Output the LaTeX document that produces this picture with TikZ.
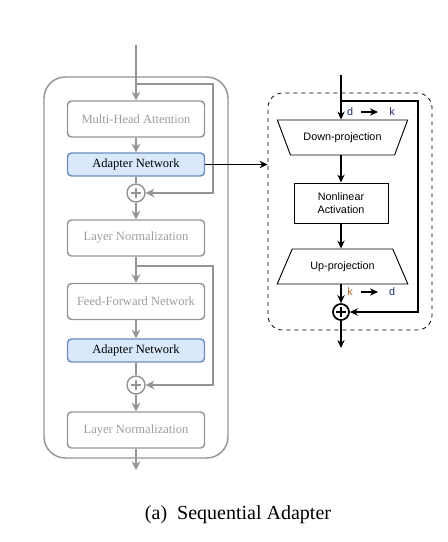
\documentclass[tikz,border=0pt]{standalone}
\usepackage{fontspec}
\setmainfont{Liberation Serif}
\setsansfont{Liberation Sans}
\usetikzlibrary{arrows.meta,shapes.geometric}
\definecolor{lgray}{HTML}{959595}
\definecolor{tgray}{HTML}{9C9C9C}
\definecolor{adfill}{HTML}{DAE8FC}
\definecolor{adline}{HTML}{6C8EBF}
\definecolor{dnavy}{HTML}{1F2A6B}
\definecolor{korange}{HTML}{B8611E}
\tikzset{
  layerbox/.style={draw=lgray, line width=1.1pt, rounded corners=3pt, minimum width=102.75pt,
    minimum height=27pt, text=tgray, font=\fontsize{9.4}{11}\selectfont},
  adapterbox/.style={layerbox, draw=adline, fill=adfill, minimum height=17.25pt, text=black},
  gplus/.style={circle, draw=lgray, line width=1.1pt, minimum size=13.5pt, inner sep=0pt},
  garrow/.style={draw=lgray, line width=1.1pt, -{Stealth[length=6.5pt,width=6.5pt]}},
  gline/.style={draw=lgray, line width=1.1pt},
  barrow/.style={line width=0.9pt, -{Stealth[length=6pt,width=5.5pt]}},
  projbox/.style={draw, line width=0.7pt, trapezium, trapezium stretches=true,
    trapezium left angle=60, trapezium right angle=60, minimum width=98.25pt, minimum height=26.25pt,
    font=\sffamily\fontsize{8.1}{10}\selectfont},
  actbox/.style={draw, line width=0.7pt, minimum width=70.5pt, minimum height=30pt, align=center,
    font=\sffamily\fontsize{8.1}{10}\selectfont},
  dimlabel/.style={font=\sffamily\fontsize{8.1}{10}\selectfont, inner sep=0pt}
}
\begin{document}
\begin{tikzpicture}[x=0.75pt, y=-0.75pt]
  \useasboundingbox (0,0) rectangle (448,542);
  % transformer layer
  \draw[lgray, line width=1.1pt, rounded corners=16pt] (44,77) rectangle (228,458);
  \coordinate (lin) at (136,45);
  \coordinate (lout) at (136,470);
  \node[layerbox] (mha) at (136,119) {Multi-Head Attention};
  \node[adapterbox] (ad1) at (136,164.5) {Adapter Network};
  \node[gplus] (plus1) at (136,193) {};
  \node[layerbox] (ln1) at (136,238) {Layer Normalization};
  \node[layerbox] (ffn) at (136,301.5) {Feed-Forward Network};
  \node[adapterbox] (ad2) at (136,350.5) {Adapter Network};
  \node[gplus] (plus2) at (136,385) {};
  \node[layerbox] (ln2) at (136,430) {Layer Normalization};
  \draw[gline] (plus1.center) ++(0,-5) -- ++(0,10) (plus1.center) ++(-5,0) -- ++(10,0);
  \draw[gline] (plus2.center) ++(0,-5) -- ++(0,10) (plus2.center) ++(-5,0) -- ++(10,0);
  \coordinate (skip1) at (136,84);
  \coordinate (skip2) at (136,266);
  \draw[garrow] (lin) -- (mha);
  \draw[garrow] (mha) -- (ad1);
  \draw[gline] (ad1) -- (plus1);
  \draw[garrow] (plus1) -- (ln1);
  \draw[garrow] (ln1) -- (ffn);
  \draw[garrow] (ffn) -- (ad2);
  \draw[gline] (ad2) -- (plus2);
  \draw[garrow] (plus2) -- (ln2);
  \draw[garrow] (ln2) -- (lout);
  \draw[garrow] (skip1) -- (213,84) |- (plus1);
  \draw[garrow] (skip2) -- (213,266) |- (plus2);

  % adapter module
  \node[draw, dashed, line width=0.6pt, rounded corners=11pt, minimum width=123pt, minimum height=177.75pt]
    (adapter) at (350,211.5) {};
  \draw[barrow] (ad1.east) -- (ad1.east -| adapter.west);
  \coordinate (rin) at (341,75);
  \coordinate (rout) at (341,348);
  \node[projbox, shape border rotate=180] (down) at (342.5,137.5) {Down-projection};
  \node[actbox] (act) at (341,203) {Nonlinear\\Activation};
  \node[projbox] (up) at (342.5,266.5) {Up-projection};
  \node[circle, draw, line width=1.3pt, minimum size=12pt, inner sep=0pt] (rplus) at (341,312) {};
  \draw[line width=1.1pt] (rplus.center) ++(0,-5) -- ++(0,10) (rplus.center) ++(-5,0) -- ++(10,0);
  \coordinate (rskip) at (341,101);
  \draw[barrow] (rin) -- (down.bottom side -| rin);
  \draw[barrow] (down.top side -| act) -- (act);
  \draw[barrow] (act) -- (up.top side -| act);
  \draw[barrow] (up.bottom side -| rplus) -- (rplus);
  \draw[barrow] (rplus) -- (rout);
  \draw[barrow] (rskip) -- (418,101) |- (rplus);
  \node[dimlabel, text=dnavy] (d1) at (350,112) {d};
  \node[dimlabel, text=dnavy] (k1) at (392,112) {k};
  \draw[barrow] (361,112) -- (378,112);
  \node[dimlabel, text=korange] (k2) at (350,292) {k};
  \node[dimlabel, text=dnavy] (d2) at (392,292) {d};
  \draw[barrow] (361,292) -- (378,292);

  \node[font=\fontsize{15}{18}\selectfont] (caption) at (238,515) {(a)\enspace Sequential Adapter};
\end{tikzpicture}
\end{document}
